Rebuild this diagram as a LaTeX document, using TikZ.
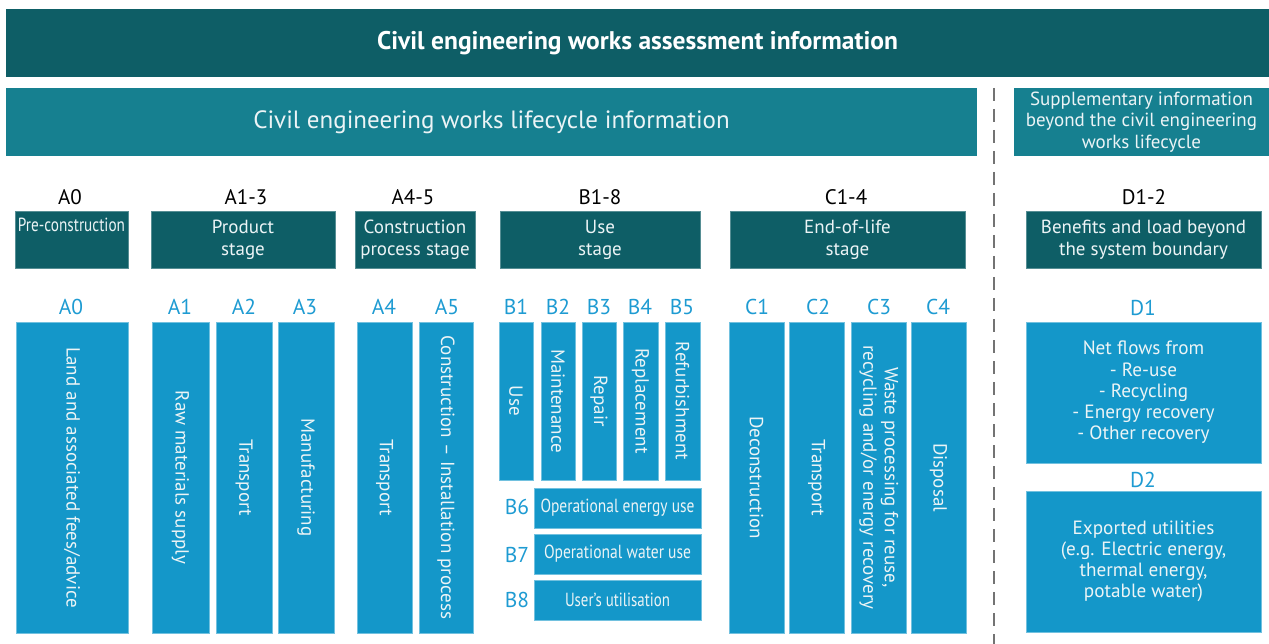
\documentclass[tikz,border=0pt]{standalone}
\usepackage{fontspec}
\setmainfont{PT Sans}
\usepackage{graphicx}
\definecolor{dkteal}{RGB}{14,94,102}
\definecolor{mdteal}{RGB}{22,128,144}
\definecolor{modblue}{RGB}{20,151,201}
\definecolor{labblue}{RGB}{30,155,210}
\definecolor{lighttxt}{RGB}{236,244,246}
\newcommand\mkbox[7]{\node[#6, anchor=north west, minimum width={(#4-#2)*1pt}, minimum height={(#5-#3)*1pt}] (#1) at (#2,#3) {#7};}
\newcommand\vt[1]{\rotatebox{-90}{#1}}
\begin{document}
\begin{tikzpicture}[x=1pt,y=-1pt,
  every node/.style={inner sep=0pt, outer sep=0pt},
  banner/.style={fill=dkteal, text=white, font=\fontsize{25.5}{29}\selectfont\bfseries},
  lifebanner/.style={fill=mdteal, text=lighttxt, font=\fontsize{25}{29}\selectfont},
  supbanner/.style={fill=mdteal, text=lighttxt, align=center, font=\fontsize{19}{21.5}\selectfont},
  stagebox/.style={fill=dkteal, draw=dkteal!70!white, line width=0.6pt, text=lighttxt, align=center, font=\fontsize{19}{22}\selectfont},
  stagelab/.style={text=black, font=\fontsize{21}{24}\selectfont},
  modbox/.style={fill=modblue, draw=modblue!60!white, line width=0.8pt, text=lighttxt, align=center, font=\fontsize{19}{21.5}\selectfont},
  dbox/.style={modbox, font=\fontsize{19.2}{21.2}\selectfont},
  modlab/.style={text=labblue, font=\fontsize{21.5}{24}\selectfont},
  dashline/.style={draw=black!55, line width=1.8pt, dash pattern=on 13pt off 8pt}
]
\useasboundingbox (0,0) rectangle (1269,644);

% banners
\mkbox{top}{6}{9}{1269}{77}{banner}{Civil engineering works assessment information}
\mkbox{life}{6}{88}{977}{156}{lifebanner}{Civil engineering works lifecycle information}
\mkbox{sup}{1014}{88}{1269}{156}{supbanner}{Supplementary information\\beyond the civil engineering\\works lifecycle}

% dashed separator
\coordinate (dtop) at (994,88);
\coordinate (dbot) at (994,644);
\draw[dashline] (dtop) -- (dbot);

% stage headers
\node[stagelab] (hA0) at (70,197) {A0};
\node[stagelab] (hA13) at (246,197) {A1-3};
\node[stagelab] (hA45) at (413,197) {A4-5};
\node[stagelab] (hB18) at (600,197) {B1-8};
\node[stagelab] (hC14) at (846,197) {C1-4};
\node[stagelab] (hD12) at (1144,197) {D1-2};

% stage boxes
\mkbox{sA0}{15}{211}{128}{268}{stagebox}{\resizebox{107pt}{\height}{Pre-construction}\\\strut}
\mkbox{sA13}{151}{211}{335}{268}{stagebox}{Product\\stage}
\mkbox{sA45}{355}{211}{475}{268}{stagebox}{Construction\\process stage}
\mkbox{sB18}{500}{211}{700}{268}{stagebox}{Use\\stage}
\mkbox{sC14}{730}{211}{965}{268}{stagebox}{End-of-life\\stage}
\mkbox{sD12}{1026}{211}{1261}{268}{stagebox}{Benefits and load beyond\\the system boundary}

% module labels
\node[modlab] (lA0) at (71,307) {A0};
\node[modlab] (lA1) at (180,307) {A1};
\node[modlab] (lA2) at (244,307) {A2};
\node[modlab] (lA3) at (305,307) {A3};
\node[modlab] (lA4) at (384,307) {A4};
\node[modlab] (lA5) at (447,307) {A5};
\node[modlab] (lB1) at (516,307) {B1};
\node[modlab] (lB2) at (558,307) {B2};
\node[modlab] (lB3) at (599,307) {B3};
\node[modlab] (lB4) at (640,307) {B4};
\node[modlab] (lB5) at (682,307) {B5};
\node[modlab] (lC1) at (757,307) {C1};
\node[modlab] (lC2) at (818,307) {C2};
\node[modlab] (lC3) at (879,307) {C3};
\node[modlab] (lC4) at (938,307) {C4};
\node[modlab] (lD1) at (1143,308) {D1};
\node[modlab] (lD2) at (1143,480) {D2};
\node[modlab] (lB6) at (517,507) {B6};
\node[modlab] (lB7) at (517,555) {B7};
\node[modlab] (lB8) at (517,600) {B8};

% module boxes
\mkbox{mA0}{16}{322}{128}{633}{modbox}{\vt{Land and associated fees/advice}}
\mkbox{mA1}{152}{322}{209}{633}{modbox}{\vt{Raw materials supply}}
\mkbox{mA2}{216}{322}{272}{633}{modbox}{\vt{Transport}}
\mkbox{mA3}{278}{322}{334}{633}{modbox}{\vt{Manufacturing}}
\mkbox{mA4}{357}{322}{412}{633}{modbox}{\vt{Transport}}
\mkbox{mA5}{419}{322}{473}{633}{modbox}{\vt{Construction -- Installation process}}
\mkbox{mB1}{499}{322}{533}{480}{modbox}{\vt{Use}}
\mkbox{mB2}{541}{322}{575}{480}{modbox}{\vt{Maintenance}}
\mkbox{mB3}{582}{322}{616}{480}{modbox}{\vt{Repair}}
\mkbox{mB4}{623}{322}{658}{480}{modbox}{\vt{Replacement}}
\mkbox{mB5}{665}{322}{700}{480}{modbox}{\vt{Refurbishment}}
\mkbox{mB6}{534}{488}{701}{528}{modbox}{\resizebox{154pt}{\height}{Operational energy use}}
\mkbox{mB7}{534}{534}{701}{574}{modbox}{\resizebox{147pt}{\height}{Operational water use}}
\mkbox{mB8}{534}{580}{701}{620}{modbox}{\resizebox{105pt}{\height}{User's utilisation}}
\mkbox{mC1}{729}{322}{784}{633}{modbox}{\vt{Deconstruction}}
\mkbox{mC2}{789}{322}{844}{633}{modbox}{\vt{Transport}}
\mkbox{mC3}{851}{322}{906}{633}{modbox}{\vt{\begin{tabular}{@{}c@{}}Waste processing for reuse,\\recycling and/or energy recovery\end{tabular}}}
\mkbox{mC4}{911}{322}{966}{633}{modbox}{\vt{Disposal}}
\mkbox{mD1}{1026}{322}{1261}{463}{dbox}{Net flows from\\- Re-use\\- Recycling\\- Energy recovery\\- Other recovery}
\mkbox{mD2}{1026}{491}{1261}{632}{dbox}{Exported utilities\\(e.g. Electric energy,\\thermal energy,\\potable water)}
\end{tikzpicture}
\end{document}
